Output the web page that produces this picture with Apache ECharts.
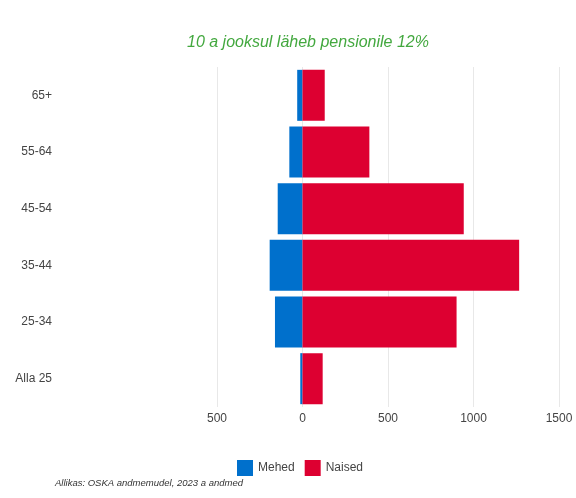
<!DOCTYPE html>
<html>
<head>
<meta charset="utf-8">
<script src="https://cdn.jsdelivr.net/npm/echarts@6/dist/echarts.min.js"></script>
<style>
  html, body { margin: 0; padding: 0; background: #fff; }
  #container { width: 576px; height: 498px; }
</style>
</head>
<body>
<div id="container"></div>
<script>
// vanuserühmad, ülevalt alla
var ageGroups = ['65+', '55-64', '45-54', '35-44', '25-34', 'Alla 25'];
var men = [-31, -77, -145, -192, -161, -13];
var women = [130, 391, 943, 1267, 901, 118];
var xTicks = { min: -500, max: 1500, interval: 500 };

var chart = echarts.init(document.getElementById('container'));
var option = {
    animation: false,
    textStyle: { fontFamily: 'Liberation Sans, Arial, sans-serif' },
    title: {
        text: '10 a jooksul läheb pensionile 12%',
        left: 303,
        top: 30,
        textAlign: 'center',
        textStyle: { color: '#43a83f', fontStyle: 'italic', fontWeight: 'normal', fontSize: 16 }
    },
    graphic: [{
        type: 'text',
        left: 55,
        top: 478,
        style: {
            text: 'Allikas: OSKA andmemudel, 2023 a andmed',
            fill: '#333',
            font: 'italic 9.5px Liberation Sans, Arial, sans-serif'
        }
    }],
    legend: {
        data: ['Mehed', 'Naised'],
        icon: 'rect',
        left: 232,
        top: 455,
        itemWidth: 16,
        itemHeight: 16,
        itemGap: 10,
        textStyle: { color: '#444', fontSize: 12 }
    },
    grid: { left: 217, right: 17, top: 67, height: 340 },
    xAxis: {
        type: 'value',
        min: xTicks.min,
        max: xTicks.max,
        interval: xTicks.interval,
        axisLine: { show: false },
        axisTick: { show: false },
        splitLine: { lineStyle: { color: '#e8e8e8' } },
        axisLabel: {
            color: '#444',
            fontSize: 12,
            margin: 6,
            formatter: function (v) { return Math.abs(v); }
        }
    },
    yAxis: {
        type: 'category',
        inverse: true,
        data: ageGroups,
        axisLine: { show: false },
        axisTick: { show: false },
        axisLabel: { color: '#444', fontSize: 12, margin: 165 }
    },
    series: [{
        name: 'Mehed',
        type: 'bar',
        stack: 'kokku',
        barCategoryGap: '10%',
        itemStyle: { color: '#0070cc' },
        data: men
    }, {
        name: 'Naised',
        type: 'bar',
        stack: 'kokku',
        barCategoryGap: '10%',
        itemStyle: { color: '#dd0031' },
        data: women
    }]
};
chart.setOption(option);
</script>
</body>
</html>
